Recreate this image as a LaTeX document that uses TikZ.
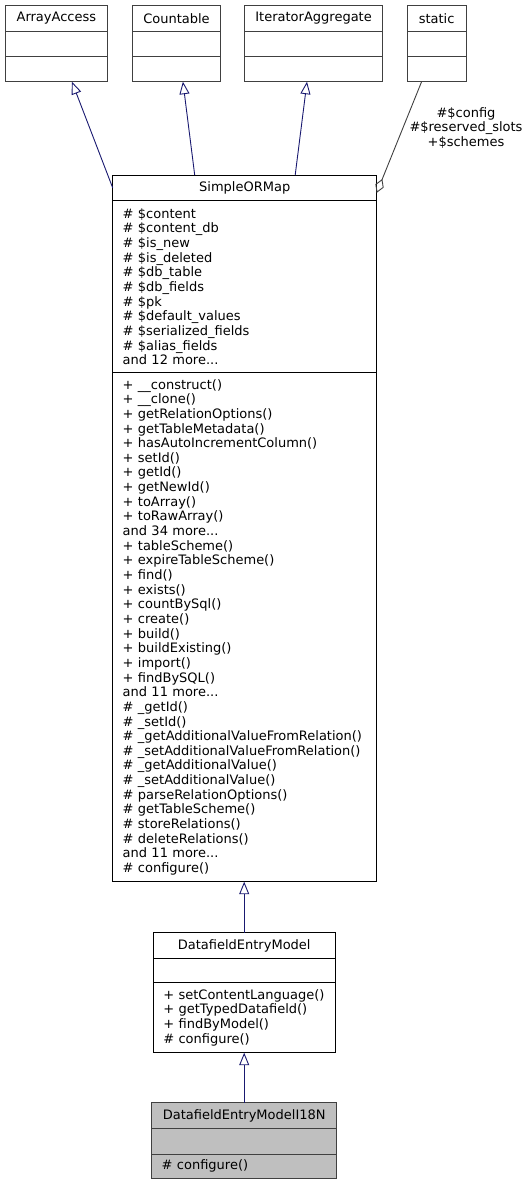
\documentclass[tikz,border=0pt]{standalone}
\usepackage{fontspec}
\setmainfont{DejaVu Sans}
\usepackage{xcolor}
\usetikzlibrary{arrows.meta, positioning}

\definecolor{inhblue}{HTML}{191970}
\definecolor{edgegray}{HTML}{404040}
\hyphenpenalty=10000
\exhyphenpenalty=10000

\begin{document}
\begin{tikzpicture}[
  x=1pt, y=-1pt,
  every node/.style={font=\fontsize{13}{14.65}\selectfont},
  cls/.style={draw, line width=0.9pt, inner sep=0pt, outer sep=0pt, align=center},
  ext/.style={cls, draw=edgegray},
  hl/.style={cls, draw=edgegray, fill=black!25},
  list/.style={inner xsep=10pt, align=left},
  inh/.style={draw=inhblue, line width=0.9pt, -{Triangle[open, length=12.5pt, width=10pt]}},
  agg/.style={draw=edgegray, line width=0.9pt, {Diamond[open, length=15pt, width=9pt]}-},
]
\useasboundingbox (0,0) rectangle (529,1185);

% interfaces and the static holder
\node[ext, minimum width=102.5pt, minimum height=25.6pt, anchor=north] (aa) at (56.4,5.7) {ArrayAccess};
\node[ext, minimum width=102.5pt, minimum height=25.4pt] (aaA) [below=0pt of aa] {};
\node[ext, minimum width=102.5pt, minimum height=25pt]   (aaM) [below=0pt of aaA] {};

\node[ext, minimum width=88.3pt, minimum height=25.6pt, anchor=north] (cnt) at (176.5,5.7) {Countable};
\node[ext, minimum width=88.3pt, minimum height=25.4pt] (cntA) [below=0pt of cnt] {};
\node[ext, minimum width=88.3pt, minimum height=25pt]   (cntM) [below=0pt of cntA] {};

\node[ext, minimum width=137.4pt, minimum height=25.6pt, anchor=north] (ia) at (313.6,5.7) {IteratorAggregate};
\node[ext, minimum width=137.4pt, minimum height=25.4pt] (iaA) [below=0pt of ia] {};
\node[ext, minimum width=137.4pt, minimum height=25pt]   (iaM) [below=0pt of iaA] {};

\node[ext, minimum width=58.7pt, minimum height=25.6pt, anchor=north] (st) at (436.6,5.7) {static};
\node[ext, minimum width=58.7pt, minimum height=25.4pt] (stA) [below=0pt of st] {};
\node[ext, minimum width=58.7pt, minimum height=25pt]   (stM) [below=0pt of stA] {};

% SimpleORMap
\node[cls, minimum width=264pt, minimum height=25.7pt, anchor=north] (sorm) at (244.7,175) {SimpleORMap};
\node[cls, list, text width=244pt, minimum height=172pt] (sormA) [below=0pt of sorm]
  {\# \$content\\\# \$content\_db\\\# \$is\_new\\\# \$is\_deleted\\\# \$db\_table\\
   \# \$db\_fields\\\# \$pk\\\# \$default\_values\\\# \$serialized\_fields\\
   \# \$alias\_fields\\and 12 more...};
\node[cls, list, text width=244pt, minimum height=509pt] (sormM) [below=0pt of sormA]
  {+ \_\_construct()\\+ \_\_clone()\\+ getRelationOptions()\\+ getTableMetadata()\\
   + hasAutoIncrementColumn()\\+ setId()\\+ getId()\\+ getNewId()\\+ toArray()\\
   + toRawArray()\\and 34 more...\\+ tableScheme()\\+ expireTableScheme()\\+ find()\\
   + exists()\\+ countBySql()\\+ create()\\+ build()\\+ buildExisting()\\+ import()\\
   + findBySQL()\\and 11 more...\\\# \_getId()\\\# \_setId()\\
   \# \_getAdditionalValueFromRelation()\\\# \_setAdditionalValueFromRelation()\\
   \# \_getAdditionalValue()\\\# \_setAdditionalValue()\\\# parseRelationOptions()\\
   \# getTableScheme()\\\# storeRelations()\\\# deleteRelations()\\and 11 more...\\
   \# configure()};

% DatafieldEntryModel
\node[cls, minimum width=181.7pt, minimum height=25.6pt, anchor=north] (dem) at (244.2,932.7) {DatafieldEntryModel};
\node[cls, minimum width=181.7pt, minimum height=24.4pt] (demA) [below=0pt of dem] {};
\node[cls, list, text width=161.7pt, minimum height=70pt] (demM) [below=0pt of demA]
  {+ setContentLanguage()\\+ getTypedDatafield()\\+ findByModel()\\\# configure()};

% DatafieldEntryModelI18N
\node[hl, minimum width=185pt, minimum height=25.6pt, anchor=north] (i18n) at (244.2,1102.7) {DatafieldEntryModelI18N};
\node[hl, minimum width=185pt, minimum height=25.7pt] (i18nA) [below=0pt of i18n] {};
\node[hl, list, text width=165pt, minimum height=24.3pt] (i18nM) [below=0pt of i18nA] {\# configure()};

% edges
\draw[inh] (sorm.west) -- ([xshift=15.5pt]aaM.south);
\draw[inh] ([xshift=-50pt]sorm.north) -- ([xshift=6.4pt]cntM.south);
\draw[inh] ([xshift=50.5pt]sorm.north) -- ([xshift=-6.6pt]iaM.south);
\draw[agg] ([yshift=-5pt]sorm.east) -- ([xshift=-15pt]stM.south);
\node[align=center] (vars) at (466,127.7) {\#\$config\\\#\$reserved\_slots\\+\$schemes};
\draw[inh] (dem.north) -- (dem.north |- sormM.south);
\draw[inh] (i18n.north) -- (i18n.north |- demM.south);
\end{tikzpicture}
\end{document}
